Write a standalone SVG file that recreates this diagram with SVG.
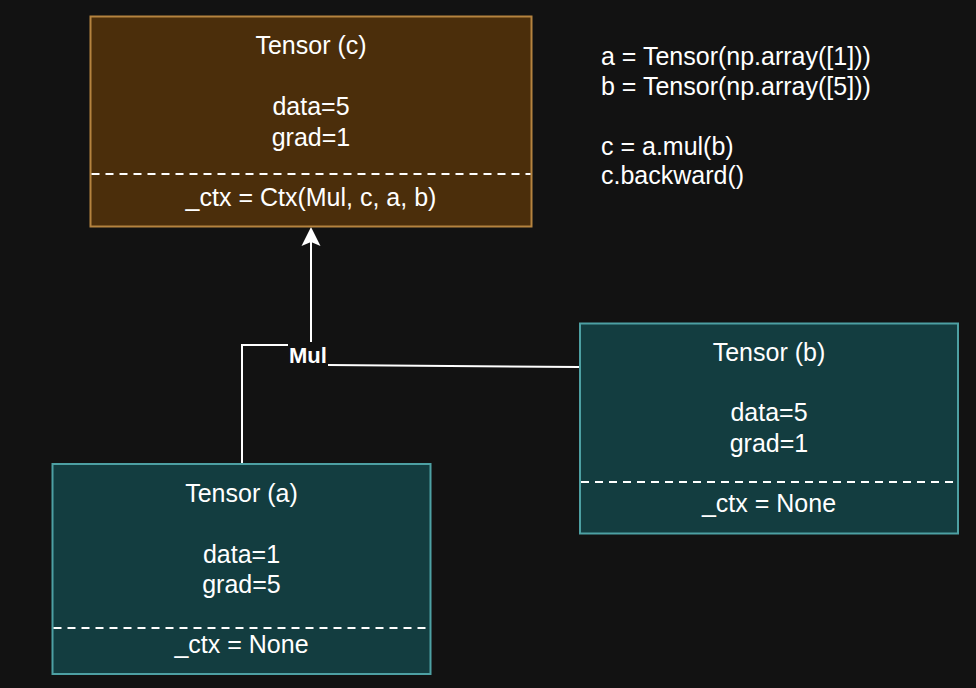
<svg xmlns="http://www.w3.org/2000/svg" width="976" height="688" viewBox="0 0 976 688">
<defs>
<style>
text{font-family:"Liberation Sans",Arial,sans-serif;font-size:25px;fill:#ffffff}
.c{text-anchor:middle}
.brown{fill:#4b2e0b;stroke:#b5833f;stroke-width:2}
.teal{fill:#133d40;stroke:#4da0a3;stroke-width:2}
.dash{stroke:#ffffff;stroke-width:2;stroke-dasharray:8 6;fill:none}
.edge{stroke:#ffffff;stroke-width:2;fill:none}
.lbl{font-weight:bold;font-size:22px}
</style>
</defs>
<rect width="976" height="688" fill="#121212"/>
<g id="connectors">
<path class="edge" d="M242,464 V345 H288"/>
<path class="edge" d="M579,367 L328,365"/>
<path class="edge" d="M311,342 V240"/>
<path d="M311,227 L320.5,246 L311,242 L301.5,246 Z" fill="#ffffff"/>
<text class="lbl c" x="308" y="362.5">Mul</text>
</g>
<g id="tensor-c">
<rect class="brown" x="90.5" y="16.5" width="441" height="210"/>
<text class="c" x="311" y="54">Tensor (c)</text>
<text class="c" x="311" y="115">data=5</text>
<text class="c" x="311" y="146">grad=1</text>
<line class="dash" x1="91.5" y1="174" x2="530.5" y2="174"/>
<text class="c" x="311" y="206">_ctx = Ctx(Mul, c, a, b)</text>
</g>
<g id="tensor-b">
<rect class="teal" x="580" y="323.5" width="378" height="210"/>
<text class="c" x="769" y="361">Tensor (b)</text>
<text class="c" x="769" y="421">data=5</text>
<text class="c" x="769" y="452">grad=1</text>
<line class="dash" x1="581" y1="482" x2="957" y2="482"/>
<text class="c" x="769" y="512">_ctx = None</text>
</g>
<g id="tensor-a">
<rect class="teal" x="52.5" y="464" width="378" height="210"/>
<text class="c" x="241.5" y="502">Tensor (a)</text>
<text class="c" x="241.5" y="563">data=1</text>
<text class="c" x="241.5" y="593">grad=5</text>
<line class="dash" x1="53.5" y1="628" x2="429.5" y2="628"/>
<text class="c" x="241.5" y="653">_ctx = None</text>
</g>
<g id="code">
<text x="601" y="65">a = Tensor(np.array([1]))</text>
<text x="601" y="95">b = Tensor(np.array([5]))</text>
<text x="601" y="155">c = a.mul(b)</text>
<text x="601" y="184">c.backward()</text>
</g>
</svg>
